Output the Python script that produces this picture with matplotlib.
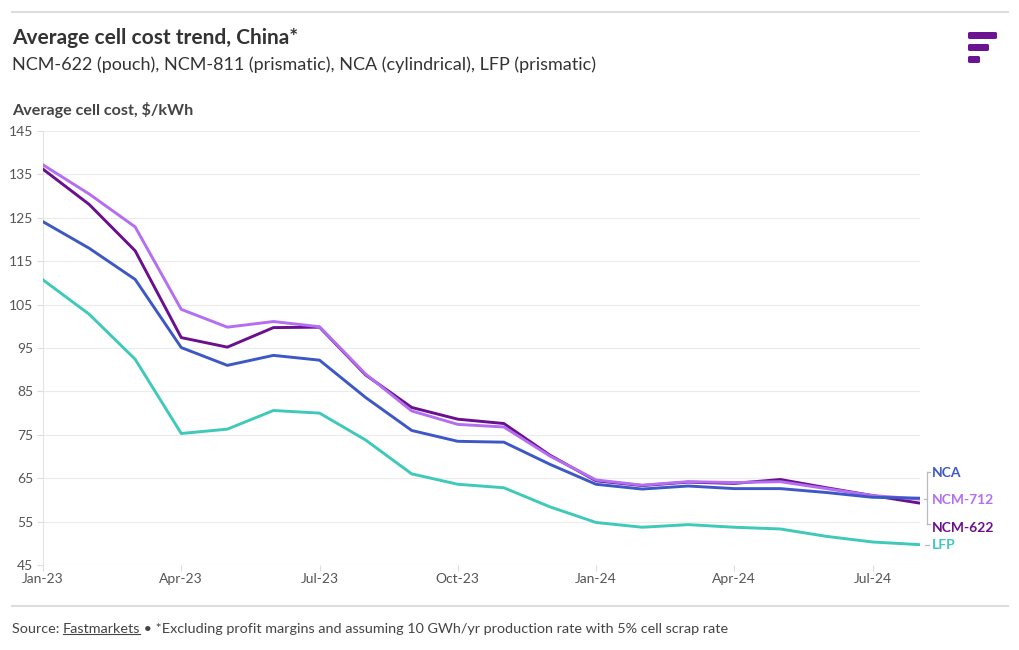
import matplotlib
matplotlib.use("Agg")
import matplotlib.pyplot as plt
from matplotlib.patches import FancyBboxPatch
from matplotlib.lines import Line2D

# monthly data, Jan-23 .. Aug-24
months = ["Jan-23", "Feb-23", "Mar-23", "Apr-23", "May-23", "Jun-23", "Jul-23",
          "Aug-23", "Sep-23", "Oct-23", "Nov-23", "Dec-23", "Jan-24", "Feb-24",
          "Mar-24", "Apr-24", "May-24", "Jun-24", "Jul-24", "Aug-24"]
ncm622 = [136.2, 128.1, 117.4, 97.4, 95.2, 99.7, 99.8, 88.8, 81.3, 78.6, 77.6, 70.3,
          64.4, 63.3, 64.1, 63.8, 64.7, 62.8, 61.0, 59.3]
ncm712 = [137.2, 130.5, 122.9, 103.9, 99.8, 101.1, 99.9, 89.0, 80.5, 77.4, 76.8, 70.1,
          64.6, 63.4, 64.2, 64.0, 64.2, 62.6, 61.0, 60.2]
nca = [124.1, 118.0, 110.8, 95.1, 91.0, 93.3, 92.2, 83.6, 76.0, 73.5, 73.3, 68.2,
       63.6, 62.5, 63.2, 62.6, 62.6, 61.7, 60.6, 60.4]
lfp = [110.7, 102.8, 92.4, 75.3, 76.3, 80.6, 80.0, 73.8, 66.0, 63.6, 62.8, 58.4,
       54.8, 53.7, 54.3, 53.7, 53.3, 51.6, 50.3, 49.7]

tick_idx = [0, 3, 6, 9, 12, 15, 18]
yticks = list(range(45, 146, 10))

c622 = "#6a0f8e"
c712 = "#b36ef2"
cnca = "#3d58c6"
clfp = "#3ec9b8"
grey = "#444444"

plt.rcParams["font.family"] = ["Lato", "DejaVu Sans"]

fig = plt.figure(figsize=(10.2, 6.5), dpi=100)
ax = fig.add_axes([43 / 1020, 1 - 565 / 650, (920 - 43) / 1020, (565 - 131) / 650])

x = list(range(len(months)))
ax.plot(x, ncm622, color=c622, lw=2.1, solid_joinstyle="round", zorder=3)
ax.plot(x, ncm712, color=c712, lw=2.1, solid_joinstyle="round", zorder=4)
ax.plot(x, nca, color=cnca, lw=2.1, solid_joinstyle="round", zorder=5)
ax.plot(x, lfp, color=clfp, lw=2.1, solid_joinstyle="round", zorder=5)

ax.set_xlim(0, 19.03)
ax.set_ylim(45, 145)
ax.set_yticks(yticks)
ax.set_yticklabels([str(v) for v in yticks])
ax.set_xticks(tick_idx)
ax.set_xticklabels([months[i] for i in tick_idx])
ax.grid(axis="y", color="#ebebeb", lw=0.8)
ax.set_axisbelow(True)
for s in ["top", "right", "bottom"]:
    ax.spines[s].set_visible(False)
ax.spines["left"].set_color("#e4e4e4")
ax.tick_params(axis="y", length=4, color="#dddddd", labelsize=10, labelcolor="#555555", pad=3)
ax.tick_params(axis="x", length=4, color="#dddddd", labelsize=10, labelcolor="#555555", pad=2)

# end labels
trans = ax.get_yaxis_transform()
lab_x = 1 + 12 / 877
ax.text(lab_x, 66.3, "NCA", transform=trans, color=cnca, fontsize=10, fontweight="bold", va="center")
ax.text(lab_x, 60.0, "NCM-712", transform=trans, color=c712, fontsize=10, fontweight="bold", va="center")
ax.text(lab_x, 53.5, "NCM-622", transform=trans, color=c622, fontsize=10, fontweight="bold", va="center")
ax.text(lab_x, 49.6, "LFP", transform=trans, color=clfp, fontsize=10, fontweight="bold", va="center")
bx = 1 + 7 / 877
ax.add_line(Line2D([bx, bx], [54.5, 66.5], transform=trans, color="#bbbbbb", lw=0.9, clip_on=False))
ax.add_line(Line2D([bx, bx + 3 / 877], [66.5, 66.5], transform=trans, color="#bbbbbb", lw=0.9, clip_on=False))
ax.add_line(Line2D([bx, bx + 3 / 877], [54.5, 54.5], transform=trans, color="#bbbbbb", lw=0.9, clip_on=False))
ax.add_line(Line2D([bx - 3 / 877, bx], [60.3, 60.3], transform=trans, color="#bbbbbb", lw=0.9, clip_on=False))
ax.add_line(Line2D([bx - 2 / 877, bx + 2 / 877], [49.6, 49.6], transform=trans, color="#bbbbbb", lw=0.9, clip_on=False))

# header
fig.add_artist(Line2D([12 / 1020, 1008 / 1020], [1 - 12 / 650] * 2, color="#dddddd", lw=1.5))
fig.text(12 / 1020, 1 - 38 / 650, "Average cell cost trend, China*", fontsize=15, fontweight="bold",
         color="#333333", va="center")
fig.text(12 / 1020, 1 - 65 / 650, "NCM-622 (pouch), NCM-811 (prismatic), NCA (cylindrical), LFP (prismatic)",
         fontsize=13, color="#333333", va="center")
fig.text(12 / 1020, 1 - 110 / 650, "Average cell cost, $/kWh", fontsize=11.6, fontweight="bold",
         color=grey, va="center")

# logo
for (x0, w, y0) in [(968, 29, 32), (968, 21, 44), (968, 12, 56)]:
    fig.add_artist(FancyBboxPatch((x0 / 1020, 1 - (y0 + 7) / 650), w / 1020, 7 / 650,
                                  boxstyle="round,pad=0,rounding_size=0.002",
                                  color="#6b1492", lw=0))

# footer
fig.add_artist(Line2D([12 / 1020, 1008 / 1020], [1 - 606 / 650] * 2, color="#dddddd", lw=1.5))
fy = 1 - 629 / 650
fs = 10.4
t1 = fig.text(12 / 1020, fy, "Source: ", fontsize=fs, color=grey, va="center")
fig.canvas.draw()
r = fig.canvas.get_renderer()
bb = t1.get_window_extent(r)
t2 = fig.text(bb.x1 / 1020, fy, "Fastmarkets", fontsize=fs, color=grey, va="center")
bb2 = t2.get_window_extent(r)
fig.add_artist(Line2D([bb2.x0 / 1020, bb2.x1 / 1020], [(bb2.y0 + 1) / 650] * 2, color=grey, lw=0.8))
fig.text(bb2.x1 / 1020, fy, " \u2022 *Excluding profit margins and assuming 10 GWh/yr production rate with 5% cell scrap rate",
         fontsize=fs, color=grey, va="center")

fig.savefig("out.png", dpi=100)
